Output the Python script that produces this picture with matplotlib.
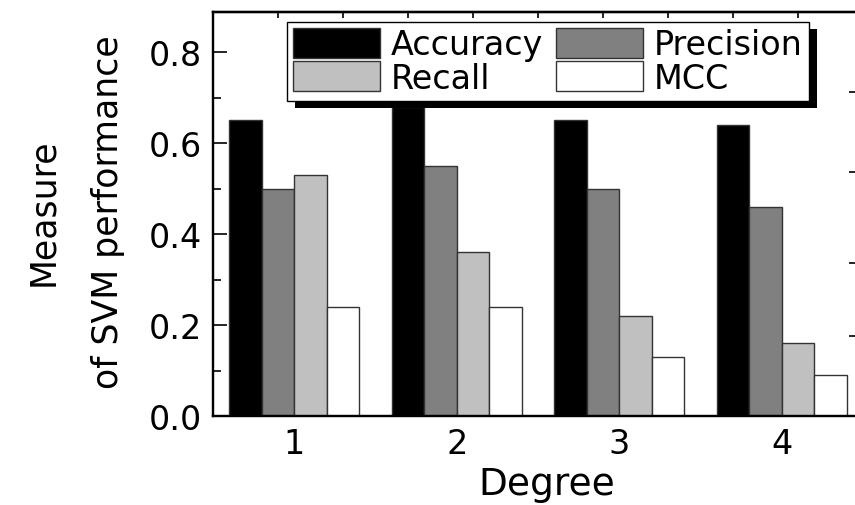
import numpy as np
import matplotlib
matplotlib.use('Agg')
import matplotlib.pyplot as plt
from matplotlib.ticker import MultipleLocator
from matplotlib.patches import Rectangle

degrees = [1, 2, 3, 4]
series = ['Accuracy', 'Precision', 'Recall', 'MCC']
accuracy = [0.65, 0.68, 0.65, 0.64]
precision = [0.50, 0.55, 0.50, 0.46]
recall = [0.53, 0.36, 0.22, 0.16]
mcc = [0.24, 0.24, 0.13, 0.09]
right_ticks = [0.176, 0.336, 0.536, 0.712]

colors = ['#000000', '#808080', '#c0c0c0', '#ffffff']

plt.rcParams['font.family'] = 'DejaVu Sans'

fig = plt.figure(figsize=(8.55, 5.06), dpi=100)
ax = fig.add_axes([0.2491, 0.1759, 0.7602, 0.7984])

x = np.array(degrees, dtype=float)
w = 0.2
vals = [accuracy, precision, recall, mcc]
bars = []
for i, (name, v) in enumerate(zip(series, vals)):
    b = ax.bar(x + (i - 1.5) * w, v, w, color=colors[i], edgecolor='#333333',
               linewidth=1.0, label=name, zorder=2)
    bars.append(b)

ax.set_xlim(0.5, 4.5)
ax.set_ylim(0, 0.888)
ax.set_xticks(degrees)
ax.set_yticks([0.0, 0.2, 0.4, 0.6, 0.8])
ax.set_yticklabels(['0.0', '0.2', '0.4', '0.6', '0.8'])
ax.yaxis.set_minor_locator(MultipleLocator(0.1))

ax.tick_params(axis='y', which='major', direction='in', length=10, width=1.2,
               labelsize=24, pad=8, right=False)
ax.tick_params(axis='y', which='minor', direction='in', length=6, width=1.2, right=False)
ax.tick_params(axis='x', which='major', length=0, labelsize=24, pad=8)

for sp in ax.spines.values():
    sp.set_linewidth(1.6)

# top ticks (Origin-style secondary ticks)
top = ax.secondary_xaxis('top')
top.xaxis.set_major_locator(MultipleLocator(0.4, offset=0.1))
top.tick_params(direction='in', length=4, width=1.2, labeltop=False)
top.spines['top'].set_linewidth(1.6)

ax2 = ax.twinx()
ax2.set_ylim(0, 0.888)
ax2.set_yticks(right_ticks)
ax2.tick_params(axis='y', direction='in', length=10, width=1.2, labelright=False)
for sp in ax2.spines.values():
    sp.set_linewidth(1.6)

ax.set_xlabel('Degree', fontsize=27)
ax.xaxis.set_label_coords(0.514, -0.125)
ax.set_ylabel('Measure\nof SVM performance', fontsize=25, linespacing=2.15)
ax.yaxis.set_label_coords(-0.135, 0.507)

# row-major legend order: Accuracy, Precision / Recall, MCC
order = [0, 2, 1, 3]
leg = ax.legend([bars[k] for k in order], [series[k] for k in order],
                ncol=2, loc='upper left', bbox_to_anchor=(287 / 855, 1 - 23 / 506),
                bbox_transform=fig.transFigure, fontsize=24, frameon=True,
                fancybox=False, framealpha=1, edgecolor='black',
                handlelength=2.6, handleheight=1.0, handletextpad=0.33,
                labelspacing=0.0, columnspacing=0.4, borderpad=0.18,
                borderaxespad=0)
leg.get_frame().set_linewidth(1.0)
leg.set_zorder(6)

# drop shadow behind the legend box
fig.canvas.draw()
bb = leg.get_window_extent()
inv = ax.transAxes.inverted()
(x0, y0), (x1, y1) = inv.transform([[bb.x0 + 8, bb.y0 - 7], [bb.x1 + 8, bb.y1 - 7]])
ax.add_patch(Rectangle((x0, y0), x1 - x0, y1 - y0, transform=ax.transAxes,
                       facecolor='black', edgecolor='none', zorder=5.5, clip_on=False))

fig.savefig('out.png', dpi=100)
